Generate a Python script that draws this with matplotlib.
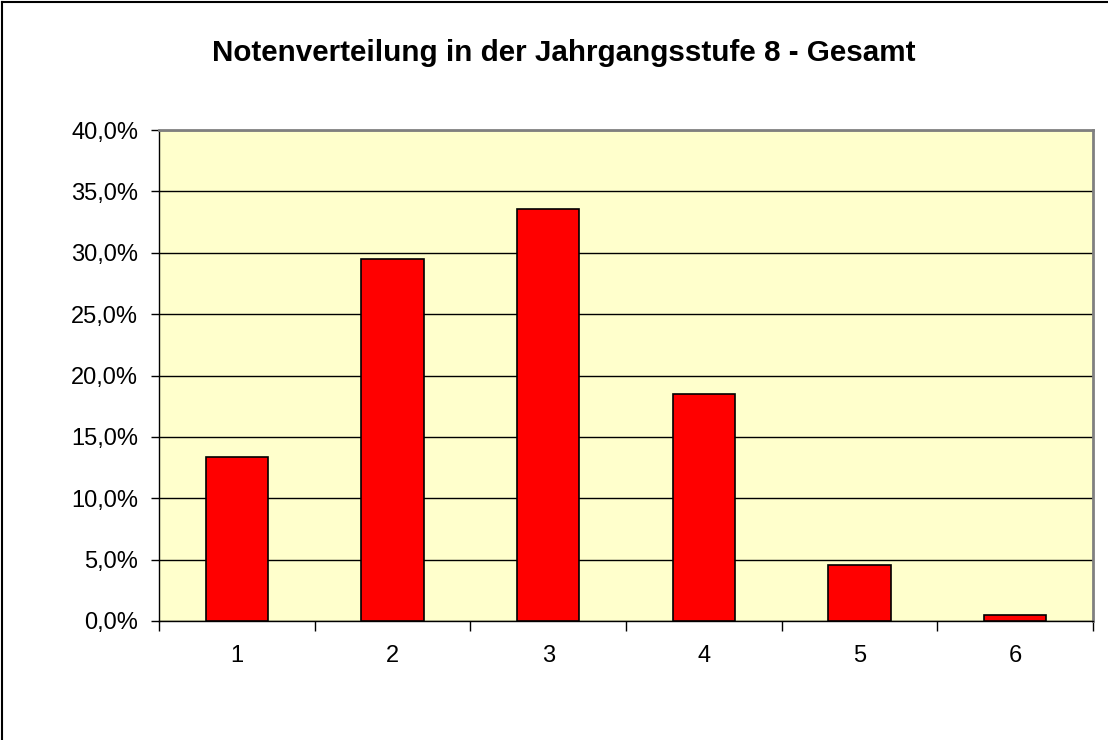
import matplotlib
matplotlib.use("Agg")
import matplotlib.pyplot as plt
from matplotlib.ticker import FuncFormatter, FixedLocator
from matplotlib.lines import Line2D

categories = ["1", "2", "3", "4", "5", "6"]
values = [13.4, 29.5, 33.6, 18.5, 4.6, 0.5]
title = "Notenverteilung in der Jahrgangsstufe 8 - Gesamt"

plt.rcParams['font.family'] = ['Liberation Sans', 'DejaVu Sans']

fig = plt.figure(figsize=(11.08, 7.4), dpi=100)
ax = fig.add_axes([159/1108, 1-621/740, (1093-159)/1108, (621-130)/740])
ax.set_facecolor('#FFFFCC')

x = list(range(len(categories)))
ax.bar(x, values, width=0.4, color='#FF0000', edgecolor='black', linewidth=1.2, zorder=3)

ax.set_xlim(-0.5, len(categories) - 0.5)
ax.set_ylim(0, 40)
ax.set_yticks([0, 5, 10, 15, 20, 25, 30, 35, 40])
ax.yaxis.set_major_formatter(FuncFormatter(lambda v, p: f"{v:.1f}%".replace('.', ',')))
ax.yaxis.grid(True, color='black', linewidth=1.0, zorder=1)
ax.set_axisbelow(True)

# x: boundaries as major ticks, labels as minor ticks at centers
ax.xaxis.set_major_locator(FixedLocator([i - 0.5 for i in range(len(categories) + 1)]))
ax.xaxis.set_major_formatter(FuncFormatter(lambda v, p: ""))
ax.xaxis.set_minor_locator(FixedLocator(x))
ax.set_xticklabels(categories, minor=True)
ax.tick_params(axis='x', which='major', length=7, width=1, color='black', direction='out')
ax.tick_params(axis='x', which='minor', length=0, labelsize=17, pad=17)
ax.tick_params(axis='y', length=6, width=1, color='black', labelsize=17, pad=9)

for s in ['left', 'bottom']:
    ax.spines[s].set_color('black')
    ax.spines[s].set_linewidth(1.0)
for s in ['top', 'right']:
    ax.spines[s].set_color('#808080')
    ax.spines[s].set_linewidth(2.0)

fig.text(564/1108, 1-53/740, title, ha='center', va='center', fontsize=21.3, fontweight='bold')

# chart-area border (left and top visible)
fig.add_artist(Line2D([2/1108, 2/1108], [0, 1-2/740], transform=fig.transFigure, color='black', linewidth=1.5))
fig.add_artist(Line2D([2/1108, 1], [1-2/740, 1-2/740], transform=fig.transFigure, color='black', linewidth=1.5))

fig.savefig('out.png', dpi=100)
